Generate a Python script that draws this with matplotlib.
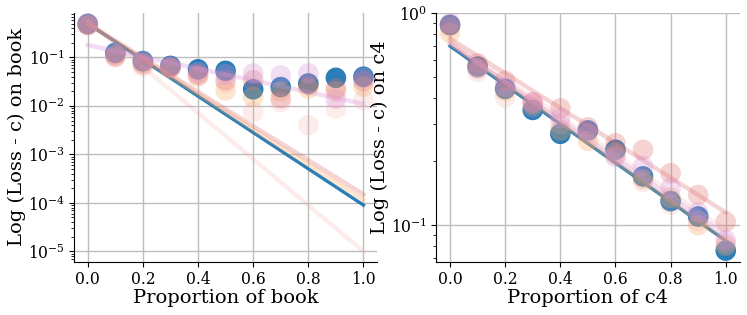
import numpy as np
import matplotlib
matplotlib.use("Agg")
import matplotlib.pyplot as plt

plt.rcParams['font.family'] = ['DejaVu Serif']

x = [0.0, 0.1, 0.2, 0.3, 0.4, 0.5, 0.6, 0.7, 0.8, 0.9, 1.0]
series = ["blue", "orange", "red", "pink", "violet"]
colors = {"blue": "#1f77b4", "orange": "#f9a65a", "red": "#e07070",
          "pink": "#f4a0a0", "violet": "#d890d8"}
alphas = {"blue": 0.95, "orange": 0.3, "red": 0.3, "pink": 0.2, "violet": 0.3}

# Left panel: loss on book
book_points = {
    "blue":   [0.49, 0.124, 0.084, 0.067, 0.057, 0.053, 0.022, 0.0245, 0.029, 0.038, 0.040],
    "orange": [0.48, 0.110, 0.078, 0.060, 0.042, 0.021, 0.0154, 0.020, 0.023, 0.020, 0.025],
    "red":    [0.47, 0.105, 0.072, 0.064, 0.045, 0.034, 0.034, 0.0143, 0.027, 0.023, 0.032],
    "pink":   [0.45, 0.100, 0.065, 0.060, 0.040, 0.030, 0.0076, 0.012, 0.0040, 0.0088, 0.0132],
    "violet": [0.50, 0.120, 0.085, 0.065, 0.050, 0.045, 0.047, 0.043, 0.047, 0.014, 0.038],
}
# fitted line values at x=0 and x=1
book_fit = {
    "blue":   [0.50, 9.0e-5],
    "orange": [0.50, 1.15e-4],
    "red":    [0.50, 1.5e-4],
    "pink":   [0.57, 1.0e-5],
    "violet": [0.18, 0.011],
}

# Right panel: loss on c4
c4_points = {
    "blue":   [0.88, 0.56, 0.44, 0.35, 0.27, 0.28, 0.227, 0.170, 0.130, 0.110, 0.076],
    "orange": [0.81, 0.55, 0.43, 0.37, 0.28, 0.25, 0.215, 0.165, 0.135, 0.100, 0.080],
    "red":    [0.88, 0.58, 0.48, 0.38, 0.356, 0.29, 0.244, 0.227, 0.176, 0.139, 0.104],
    "pink":   [0.86, 0.53, 0.40, 0.36, 0.30, 0.27, 0.220, 0.160, 0.125, 0.105, 0.082],
    "violet": [0.90, 0.55, 0.45, 0.38, 0.32, 0.28, 0.210, 0.190, 0.150, 0.115, 0.085],
}
c4_fit = {
    "blue":   [0.70, 0.0845],
    "orange": [0.72, 0.085],
    "red":    [0.76, 0.115],
    "pink":   [0.74, 0.095],
    "violet": [0.72, 0.090],
}

fig = plt.figure(figsize=(7.47, 3.15), dpi=100)
ax1 = fig.add_axes([0.099, 0.169, 0.406, 0.790])
ax2 = fig.add_axes([0.584, 0.169, 0.406, 0.789])

def draw(ax, pts, fit, ylim, name):
    xs = np.array(x)
    for s in series:
        a0, a1 = fit[s]
        xl = np.array([0.0, 1.0])
        yl = np.exp(np.log(a0) + (np.log(a1) - np.log(a0)) * xl)
        lw = 2.4 if s == "blue" else 3.2
        ax.plot(xl, yl, color=colors[s], alpha=alphas[s], lw=lw, zorder=3)
        ax.scatter(xs, pts[s], s=220, color=colors[s], alpha=alphas[s],
                   edgecolors='none', zorder=3)
    ax.set_yscale('log')
    ax.set_xlim(-0.05, 1.05)
    ax.set_ylim(*ylim)
    ax.set_xticks([0.0, 0.2, 0.4, 0.6, 0.8, 1.0])
    ax.grid(True, which='major', color='#bdbdbd', lw=1.0, zorder=0)
    ax.set_axisbelow(True)
    for sp in ['top', 'right']:
        ax.spines[sp].set_visible(False)
    ax.tick_params(labelsize=11.2, pad=3)
    ax.set_xlabel(f"Proportion of {name}", fontsize=14, labelpad=1)
    ax.set_ylabel(f"Log (Loss - c) on {name}", fontsize=14, labelpad=1)

draw(ax1, book_points, book_fit, (6.1e-6, 0.83), "book")
ax1.set_yticks([1e-5, 1e-4, 1e-3, 1e-2, 1e-1])
draw(ax2, c4_points, c4_fit, (0.0673, 1.0), "c4")

fig.savefig("out.png", dpi=100)
